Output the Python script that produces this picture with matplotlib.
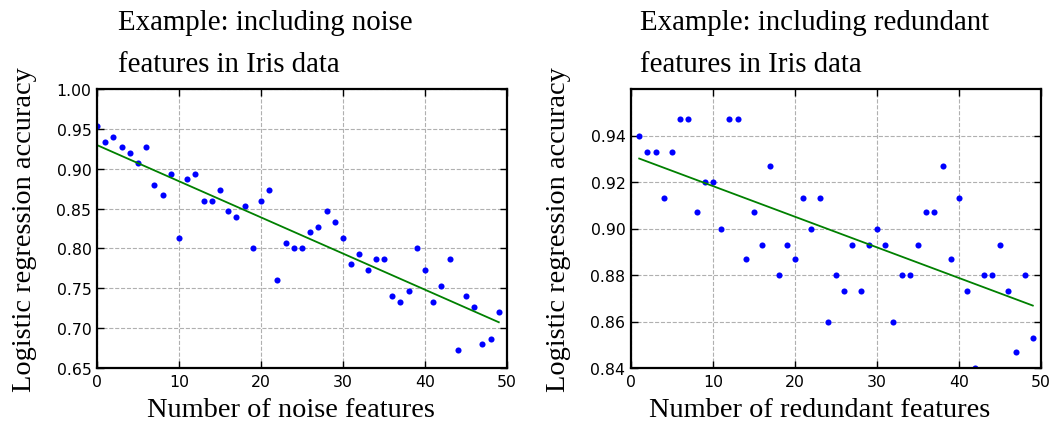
import matplotlib
matplotlib.use("Agg")
import matplotlib.pyplot as plt
import numpy as np

# accuracy (iris has 150 samples -> steps of 1/150)
noise_n = list(range(0, 50))
noise_acc = [0.953, 0.933, 0.940, 0.927, 0.920, 0.907, 0.927, 0.880, 0.867, 0.893,
             0.813, 0.887, 0.893, 0.860, 0.860, 0.873, 0.847, 0.840, 0.853, 0.800,
             0.860, 0.873, 0.760, 0.807, 0.800, 0.800, 0.820, 0.827, 0.847, 0.833,
             0.813, 0.780, 0.793, 0.773, 0.787, 0.787, 0.740, 0.733, 0.747, 0.800,
             0.773, 0.733, 0.753, 0.787, 0.673, 0.740, 0.727, 0.680, 0.687, 0.720]

red_n = list(range(1, 50))
red_acc = [0.940, 0.933, 0.933, 0.913, 0.933, 0.947, 0.947, 0.907, 0.920,
           0.920, 0.900, 0.947, 0.947, 0.887, 0.907, 0.893, 0.927, 0.880, 0.893,
           0.887, 0.913, 0.900, 0.913, 0.860, 0.880, 0.873, 0.893, 0.873, 0.893,
           0.900, 0.893, 0.860, 0.880, 0.880, 0.893, 0.907, 0.907, 0.927, 0.887,
           0.913, 0.873, 0.840, 0.880, 0.880, 0.893, 0.873, 0.847, 0.880, 0.853]

serif = "Liberation Serif"
plt.rcParams['font.family'] = 'DejaVu Sans'

fig = plt.figure(figsize=(10.54, 4.27), dpi=100)
W, H = 1054.0, 427.0


def panel(left_px, xs, ys, title, xlabel, ylim, yticks, title_dx, xlab_x):
    ax = fig.add_axes([left_px / W, 1 - 369 / H, 410 / W, 279 / H])
    ax.plot(xs, ys, 'o', color='blue', markersize=4.4, markeredgewidth=0)
    p = np.polyfit(xs, ys, 1)
    xf = np.array([xs[0], xs[-1]])
    ax.plot(xf, np.polyval(p, xf), '-', color='green', linewidth=1.3)
    ax.set_xlim(0, 50)
    ax.set_ylim(*ylim)
    ax.set_xticks([0, 10, 20, 30, 40, 50])
    ax.set_yticks(yticks)
    ax.grid(True, color='#b0b0b0', linestyle='--', linewidth=0.8)
    ax.set_axisbelow(True)
    for s in ax.spines.values():
        s.set_linewidth(1.6)
    ax.tick_params(direction='in', top=True, right=True, length=5, width=1,
                   labelsize=11.3, pad=4)
    ax.set_xlabel(xlabel, family=serif, fontsize=20.4, labelpad=6, x=xlab_x)
    ax.set_ylabel('Logistic regression accuracy', family=serif, fontsize=20.4,
                  labelpad=14)
    ax.text(title_dx, 1.043, title, transform=ax.transAxes, family=serif,
            fontsize=20.8, ha='left', va='bottom', linespacing=1.8)
    ax.yaxis.set_major_formatter(matplotlib.ticker.FormatStrFormatter('%.2f'))
    return ax


ax1 = panel(97, noise_n, noise_acc,
            'Example: including noise\nfeatures in Iris data',
            'Number of noise features', (0.65, 1.00),
            [0.65, 0.70, 0.75, 0.80, 0.85, 0.90, 0.95, 1.00], 0.051, 0.473)

ax2 = panel(631, red_n, red_acc,
            'Example: including redundant\nfeatures in Iris data',
            'Number of redundant features', (0.84, 0.96),
            [0.84, 0.86, 0.88, 0.90, 0.92, 0.94], 0.022, 0.461)

fig.savefig('out.png', dpi=100, facecolor='white')
